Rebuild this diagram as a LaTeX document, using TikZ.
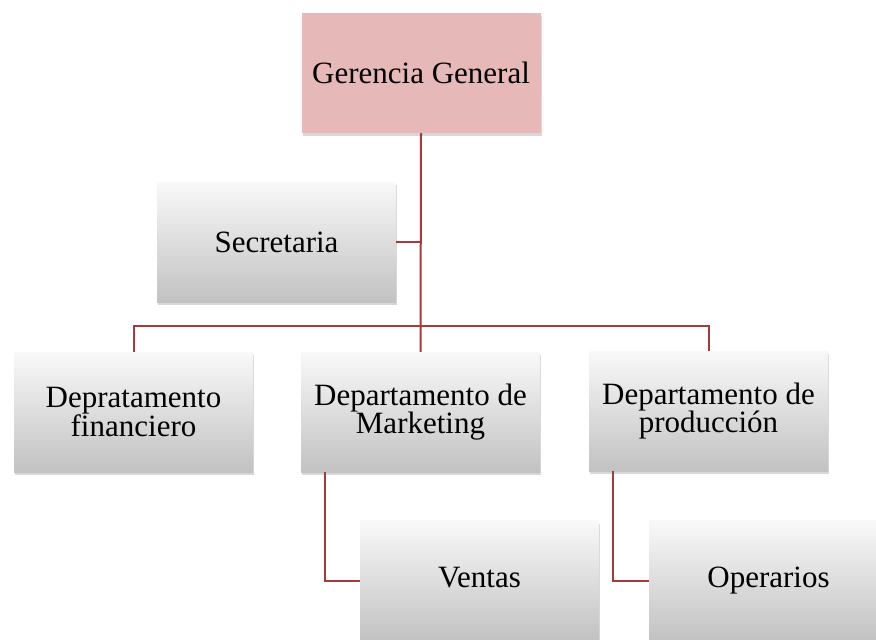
\documentclass[tikz,border=0pt]{standalone}
\usepackage{fontspec}
\setmainfont{Liberation Serif}
\usetikzlibrary{shadows}
\definecolor{linered}{HTML}{A33A3C}
\definecolor{gerpink}{HTML}{E6B8B7}
\tikzset{
  orgbox/.style={rectangle, minimum width=239pt, minimum height=120pt, inner sep=0pt,
    align=center, font=\fontsize{31}{28.5}\selectfont,
    drop shadow={opacity=0.3, shadow xshift=1pt, shadow yshift=-3pt}},
  graybox/.style={orgbox, top color=gray!5, bottom color=gray!48},
  pinkbox/.style={orgbox, fill=gerpink},
  conn/.style={draw=linered, line width=2pt}
}
\begin{document}
\begin{tikzpicture}[x=1pt,y=1pt]
\useasboundingbox[fill=white] (0,0) rectangle (876,-640);
\node[pinkbox] (ger) at (421,-73) {Gerencia General};
\node[graybox] (sec) at (276.5,-242) {Secretaria};
\node[graybox] (fin) at (133.5,-412) {Depratamento\\financiero};
\node[graybox] (mkt) at (420.5,-412) {Departamento de\\Marketing};
\node[graybox] (pro) at (708.5,-411) {Departamento de\\producción};
\node[graybox] (ven) at (479.5,-580.5) {Ventas\vphantom{p}};
\node[graybox] (ope) at (768.5,-580.5) {Operarios};
\coordinate (bar) at (421,-326);
\draw[conn] (ger.south) -- (mkt.north);
\draw[conn] (sec.east) -- (sec.east -| ger.south);
\draw[conn] (fin.north) |- (bar) -| (pro.north);
\draw[conn] ([xshift=-95.5pt]mkt.south) |- (ven.west);
\draw[conn] ([xshift=-95.5pt]pro.south) |- (ope.west);
\end{tikzpicture}
\end{document}
